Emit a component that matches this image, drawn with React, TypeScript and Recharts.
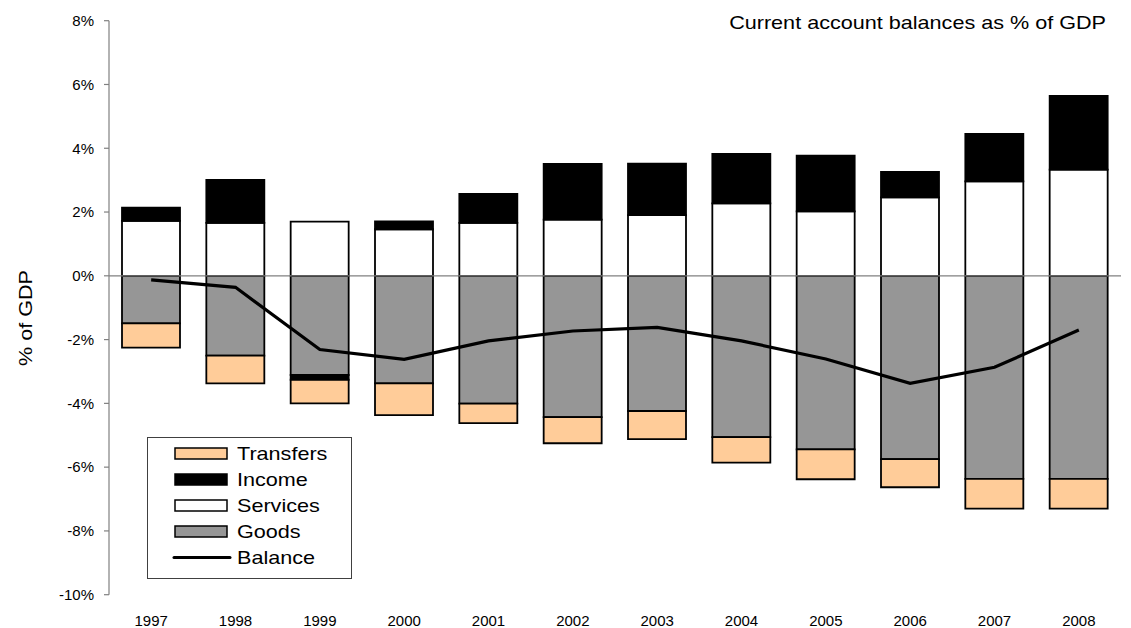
import React from 'react';
import {
  ComposedChart, Bar, Line, XAxis, YAxis, ReferenceLine, Legend,
} from 'recharts';

// values, % of GDP
const years = ['1997', '1998', '1999', '2000', '2001', '2002', '2003', '2004', '2005', '2006', '2007', '2008'];
const goods = [-1.49, -2.5, -3.11, -3.37, -4.01, -4.43, -4.24, -5.06, -5.44, -5.75, -6.37, -6.37];
const services = [1.72, 1.66, 1.7, 1.46, 1.66, 1.76, 1.9, 2.27, 2.02, 2.46, 2.96, 3.33];
const income = [0.42, 1.35, -0.15, 0.25, 0.91, 1.75, 1.62, 1.55, 1.75, 0.8, 1.49, 2.31];
const transfers = [-0.76, -0.87, -0.74, -1.0, -0.61, -0.82, -0.88, -0.8, -0.94, -0.88, -0.93, -0.93];
const balance = [-0.13, -0.36, -2.31, -2.62, -2.04, -1.73, -1.62, -2.04, -2.61, -3.37, -2.87, -1.7];
const yTicks = [-10, -8, -6, -4, -2, 0, 2, 4, 6, 8];

const legendItems = [
  { name: 'Transfers', color: '#FFCC99', type: 'rect' },
  { name: 'Income', color: '#000000', type: 'rect' },
  { name: 'Services', color: '#FFFFFF', type: 'rect' },
  { name: 'Goods', color: '#969696', type: 'rect' },
  { name: 'Balance', color: '#000000', type: 'line' },
];

const data = years.map((year, i) => ({
  year,
  goods: goods[i],
  services: services[i],
  income: income[i],
  transfers: transfers[i],
  balance: balance[i],
}));

const FONT = '"Liberation Sans", Arial, sans-serif';
// the big labels in the original are drawn a bit wide
const WIDE = 'scale(1.2,1)';

function LegendBox() {
  return (
    <svg width={205} height={142} style={{ display: 'block', fontFamily: FONT }}>
      <rect x={0.5} y={0.5} width={204} height={141} fill="#fff" stroke="#404040" strokeWidth={1} />
      {legendItems.map((item, i) => {
        const cy = 16.5 + i * 26;
        return (
          <g key={item.name}>
            {item.type === 'rect' ? (
              <rect x={28} y={cy - 5.5} width={52} height={11} fill={item.color} stroke="#000" strokeWidth={1.5} />
            ) : (
              <line x1={27} y1={cy} x2={83} y2={cy} stroke={item.color} strokeWidth={3} strokeLinecap="round" />
            )}
            <g transform={`translate(90 ${cy + 6.5}) ${WIDE}`}>
              <text x={0} y={0} fontSize={18} fill="#000">{item.name}</text>
            </g>
          </g>
        );
      })}
    </svg>
  );
}

export default function App() {
  return (
    <div style={{ position: 'absolute', left: 0, top: 0, width: 1131, height: 628, background: '#fff' }}>
      <ComposedChart
        width={1131}
        height={628}
        data={data}
        stackOffset="sign"
        margin={{ top: 20.7, right: 10, bottom: 0, left: 0 }}
        style={{ fontFamily: FONT }}
      >
        <XAxis
          dataKey="year"
          height={33.3}
          axisLine={false}
          tickLine={false}
          tickSize={0}
          tickMargin={21}
          tick={{ fontSize: 15, fill: '#000' }}
          interval={0}
        />
        <YAxis
          width={109}
          domain={[-10, 8]}
          ticks={yTicks}
          interval={0}
          tickFormatter={(v: number) => `${v}%`}
          axisLine={{ stroke: '#808080', strokeWidth: 1.2 }}
          tickLine={{ stroke: '#808080', strokeWidth: 1.2 }}
          tickSize={5}
          tickMargin={10}
          tick={{ fontSize: 15, fill: '#000' }}
        />
        <ReferenceLine y={0} stroke="#808080" strokeWidth={1.2} />
        <Bar dataKey="goods" stackId="a" fill="#969696" stroke="#000" strokeWidth={1.8} barSize={58} isAnimationActive={false} />
        <Bar dataKey="services" stackId="a" fill="#FFFFFF" stroke="#000" strokeWidth={1.8} barSize={58} isAnimationActive={false} />
        <Bar dataKey="income" stackId="a" fill="#000000" stroke="#000" strokeWidth={1.8} barSize={58} isAnimationActive={false} />
        <Bar dataKey="transfers" stackId="a" fill="#FFCC99" stroke="#000" strokeWidth={1.8} barSize={58} isAnimationActive={false} />
        <Line
          type="linear"
          dataKey="balance"
          stroke="#000"
          strokeWidth={3.2}
          dot={false}
          activeDot={false}
          isAnimationActive={false}
        />
        <Legend
          layout="vertical"
          align="center"
          verticalAlign="middle"
          content={() => <LegendBox />}
          wrapperStyle={{ left: 147, top: 437, width: 205, height: 142 }}
        />
      </ComposedChart>
      <svg
        width={1131}
        height={628}
        style={{ position: 'absolute', left: 0, top: 0, pointerEvents: 'none', fontFamily: FONT }}
      >
        <g transform={`translate(1106 28.5) ${WIDE}`}>
          <text x={0} y={0} textAnchor="end" fontSize={18} fill="#000">
            Current account balances as % of GDP
          </text>
        </g>
        <g transform={`translate(31.5 318) rotate(-90) ${WIDE}`}>
          <text x={0} y={0} textAnchor="middle" fontSize={18} fill="#000">
            % of GDP
          </text>
        </g>
      </svg>
    </div>
  );
}
